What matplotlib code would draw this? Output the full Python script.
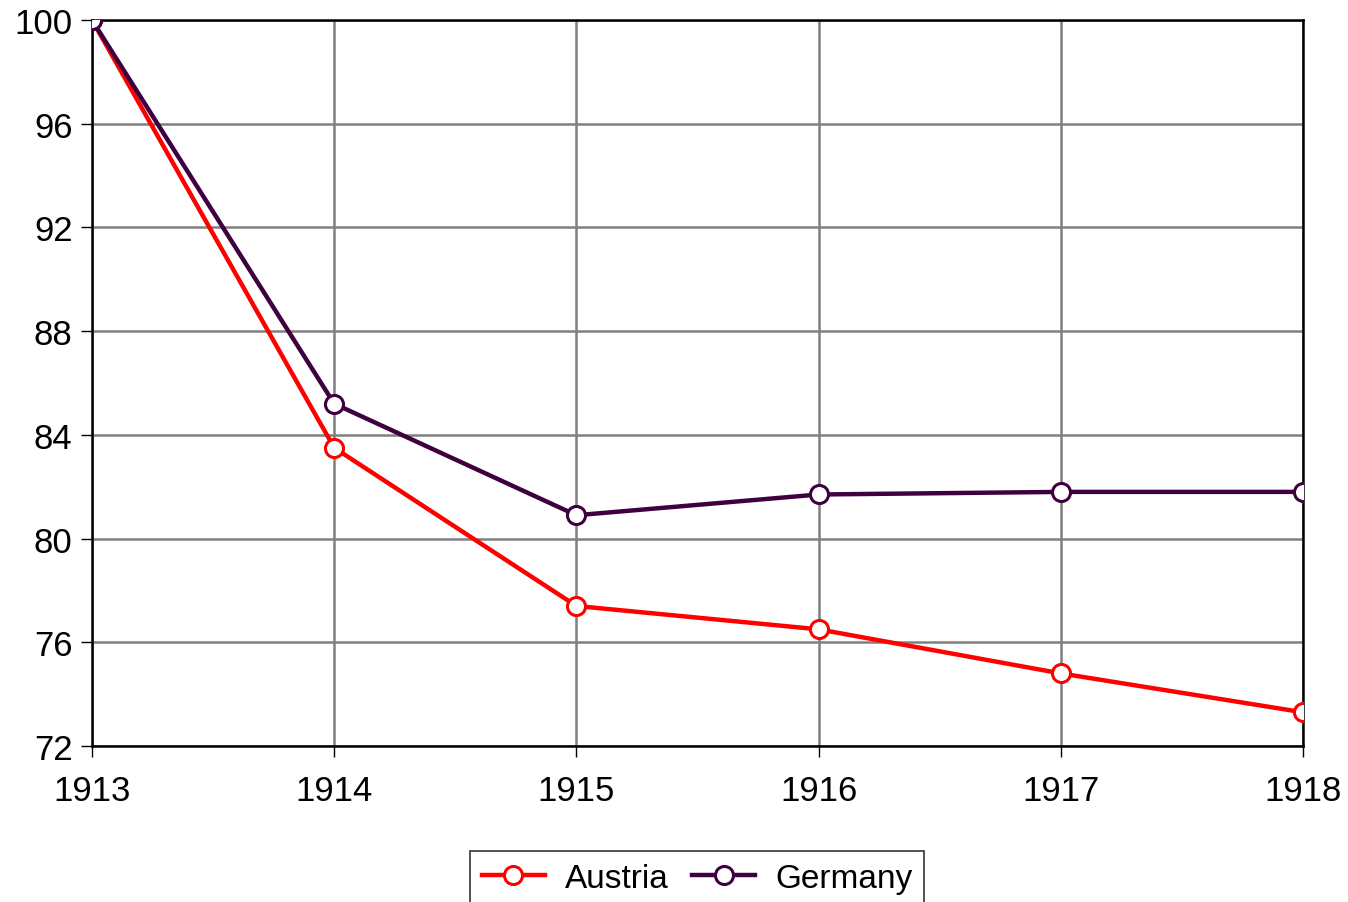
import matplotlib
matplotlib.use("Agg")
import matplotlib.pyplot as plt

years = [1913, 1914, 1915, 1916, 1917, 1918]
austria = [100, 83.5, 77.4, 76.5, 74.8, 73.3]
germany = [100, 85.2, 80.9, 81.7, 81.8, 81.8]
yticks = [72, 76, 80, 84, 88, 92, 96, 100]

plt.rcParams['font.family'] = ['Liberation Sans', 'DejaVu Sans']

fig = plt.figure(figsize=(13.48, 9.03), dpi=100)
ax = fig.add_axes([92/1348, 1-747/903, (1303-92)/1348, (747-21)/903])

ax.plot(years, austria, color='#ff0000', lw=3.2, marker='o', ms=13,
        mfc='white', mec='#ff0000', mew=2.2, label='Austria', zorder=3)
ax.plot(years, germany, color='#3f0040', lw=3.2, marker='o', ms=13,
        mfc='white', mec='#3f0040', mew=2.2, label='Germany', zorder=3)

ax.set_xlim(1913, 1918)
ax.set_ylim(72, 100)
ax.set_xticks(years)
ax.set_yticks(yticks)
ax.grid(True, color='#808080', lw=1.8)
ax.set_axisbelow(True)
for s in ax.spines.values():
    s.set_linewidth(1.8)
    s.set_color('black')
ax.tick_params(direction='out', length=8, width=1, labelsize=25)
ax.tick_params(axis='x', pad=12)
ax.tick_params(axis='y', pad=6)

leg = fig.legend(loc='lower center', bbox_to_anchor=(697/1348, -0.022), ncol=2,
                 fontsize=24, frameon=True, fancybox=False, edgecolor='black',
                 handlelength=1.9, columnspacing=0.7, handletextpad=0.6,
                 borderpad=0.35)
leg.get_frame().set_linewidth(1.2)

fig.savefig('out.png', dpi=100)
